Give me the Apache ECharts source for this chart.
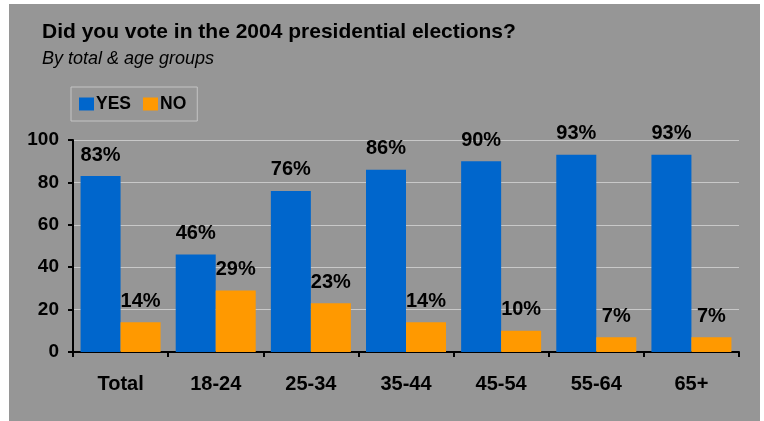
<!DOCTYPE html>
<html>
<head>
<meta charset="utf-8">
<script src="https://cdn.jsdelivr.net/npm/echarts@6/dist/echarts.min.js"></script>
<style>
  html, body { margin: 0; padding: 0; background: #fff; }
  #vote-chart { width: 764px; height: 421px; }
</style>
</head>
<body>
<div id="vote-chart"></div>
<script>
    // age groups on the x axis
    var categories = ['Total', '18-24', '25-34', '35-44', '45-54', '55-64', '65+'];
    var yesValues = [83, 46, 76, 86, 90, 93, 93];
    var noValues = [14, 29, 23, 14, 10, 7, 7];
    var seriesNames = ['YES', 'NO'];

    var font = '"Liberation Sans", Arial, sans-serif';
    var chart = echarts.init(document.getElementById('vote-chart'));

    var pctLabel = {
        show: true,
        position: 'top',
        distance: 11,
        formatter: '{c}%',
        color: '#000',
        fontFamily: font,
        fontWeight: 'bold',
        fontSize: 20
    };

    var option = {
        backgroundColor: '#fff',
        animation: false,
        graphic: [
            {
                type: 'rect',
                z: -10,
                shape: { x: 9, y: 4, width: 751, height: 417 },
                style: { fill: '#969696' }
            }
        ],
        title: {
            text: 'Did you vote in the 2004 presidential elections?',
            subtext: 'By total & age groups',
            left: 37,
            top: 17,
            itemGap: 7,
            textStyle: {
                fontFamily: font,
                fontWeight: 'bold',
                fontSize: 21,
                color: '#000'
            },
            subtextStyle: {
                fontFamily: font,
                fontStyle: 'italic',
                fontSize: 18,
                color: '#000'
            }
        },
        legend: {
            data: seriesNames,
            left: 71,
            top: 87,
            orient: 'horizontal',
            itemWidth: 15,
            itemHeight: 13,
            itemGap: 12,
            icon: 'rect',
            padding: [8, 11, 8, 8],
            borderColor: '#c4c4c4',
            borderWidth: 1,
            textStyle: {
                fontFamily: font,
                fontWeight: 'bold',
                fontSize: 17.5,
                color: '#000',
                padding: [0, 0, 0, -3]
            }
        },
        grid: {
            left: 73,
            right: 25,
            top: 140,
            bottom: 69,
            containLabel: false
        },
        xAxis: {
            type: 'category',
            data: categories,
            axisLine: { lineStyle: { color: '#000', width: 2 } },
            axisTick: { show: true, length: 5, lineStyle: { color: '#000', width: 2 } },
            axisLabel: {
                margin: 22,
                color: '#000',
                fontFamily: font,
                fontWeight: 'bold',
                fontSize: 20
            }
        },
        yAxis: {
            type: 'value',
            min: 0,
            max: 100,
            interval: 20,
            axisLine: { show: true, lineStyle: { color: '#000', width: 2 } },
            axisTick: { show: true, length: 5, lineStyle: { color: '#000', width: 2 } },
            axisLabel: {
                margin: 14,
                color: '#000',
                fontFamily: font,
                fontWeight: 'bold',
                fontSize: 19
            },
            splitLine: { lineStyle: { color: '#c8c8c8', width: 1 } }
        },
        series: [
            {
                name: seriesNames[0],
                type: 'bar',
                data: yesValues,
                barWidth: 40,
                barGap: '0%',
                itemStyle: { color: '#0066cc' },
                label: pctLabel
            },
            {
                name: seriesNames[1],
                type: 'bar',
                data: noValues,
                barWidth: 40,
                barGap: '0%',
                itemStyle: { color: '#ff9900' },
                label: pctLabel
            }
        ]
    };
    chart.setOption(option);
</script>
</body>
</html>
